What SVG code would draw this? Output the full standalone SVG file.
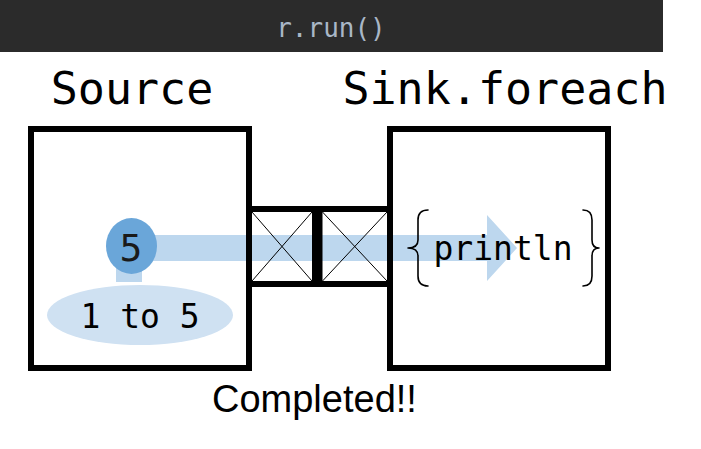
<svg xmlns="http://www.w3.org/2000/svg" width="701" height="449" viewBox="0 0 701 449">
<style>
.mono{font-family:"DejaVu Sans Mono","Liberation Mono",monospace;}
.box{fill:none;stroke:#000;stroke-width:6;}
.thin{stroke:#000;stroke-width:1;fill:none;}
.brace{fill:none;stroke:#000;stroke-width:1.6;stroke-linecap:round;stroke-linejoin:round;}
</style>
<rect width="701" height="449" fill="#fff"/>
<g id="title-bar">
<rect x="0" y="0" width="663" height="52" fill="#2b2b2b"/>
<text x="331" y="37" class="mono" font-size="26" fill="#a9b7c6" text-anchor="middle">r.run()</text>
</g>
<g id="connectors">
<path d="M116,282 L116,235 L487,235 L487,215 L517,248 L487,281 L487,261 L142,261 L142,282 Z" fill="#bdd7ee"/>
</g>
<g id="source">
<text x="132" y="104" class="mono" font-size="45" fill="#000" text-anchor="middle">Source</text>
<rect class="box" x="31" y="129" width="218" height="239"/>
<ellipse cx="140" cy="315" rx="93" ry="30" fill="#cfe1f2"/>
<text x="140" y="328" class="mono" font-size="33" fill="#000" text-anchor="middle">1 to 5</text>
<ellipse cx="131.5" cy="246" rx="25.5" ry="28" fill="#6aa6d9"/>
<text x="131" y="261" class="mono" font-size="38" fill="#1a1a1a" text-anchor="middle">5</text>
</g>
<g id="queue">
<line x1="249" y1="209" x2="390" y2="209" stroke="#000" stroke-width="6"/>
<line x1="249" y1="284" x2="390" y2="284" stroke="#000" stroke-width="6"/>
<rect x="312" y="209" width="10.5" height="75" fill="#000"/>
<line class="thin" x1="252" y1="212" x2="312" y2="281"/>
<line class="thin" x1="252" y1="281" x2="312" y2="212"/>
<line class="thin" x1="322.5" y1="212" x2="387" y2="281"/>
<line class="thin" x1="322.5" y1="281" x2="387" y2="212"/>
</g>
<g id="sink">
<text x="505" y="104" class="mono" font-size="45" fill="#000" text-anchor="middle">Sink.foreach</text>
<rect class="box" x="390" y="129" width="218" height="239"/>
<path class="brace" d="M428,210 Q418,210 418,220 L418,240 Q418,248 408,248 Q418,248 418,256 L418,276 Q418,286 428,286"/>
<path class="brace" d="M583,210 Q592,210 592,220 L592,240 Q592,248 599,248 Q592,248 592,256 L592,276 Q592,286 583,286"/>
<text x="503" y="260" class="mono" font-size="33" fill="#000" text-anchor="middle">println</text>
</g>
<g id="status">
<text x="212" y="412" font-family="Liberation Sans, Arial, sans-serif" font-size="38" fill="#000">Completed!!</text>
</g>
</svg>
